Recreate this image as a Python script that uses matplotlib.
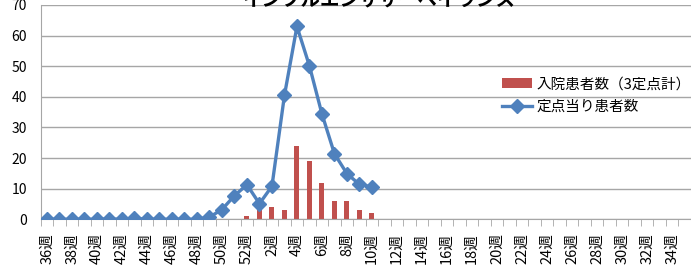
import matplotlib.pyplot as plt
import numpy as np

plt.rcParams['font.family'] = ['Noto Sans CJK JP', 'DejaVu Sans']

# weeks from 36 (previous year) to 35
weeks = list(range(36, 53)) + list(range(1, 36))
week_labels = [f'{w}週' if w % 2 == 0 else '' for w in weeks]

# 定点当り患者数 (36週 .. 10週)
per_site = [0, 0, 0, 0, 0, 0.1, 0, 0.3, 0, 0, 0, 0, 0,
            0.7, 3.2, 7.7, 11.3, 5.1, 10.8, 40.5, 63.0, 50.1,
            34.4, 21.4, 14.9, 11.4, 10.6]

# 入院患者数 (3定点計) (36週 .. 10週)
inpatients = [0, 0, 0, 0, 0, 0, 0, 0, 0, 0, 0, 0, 0, 0, 0, 0,
              1, 3, 4, 3, 24, 19, 12, 6, 6, 3, 2]

title = 'インフルエンザサーベイランス'
blue = '#4F81BD'
red = '#C0504D'

fig = plt.figure(figsize=(6.91, 2.73), dpi=100)
ax = fig.add_axes([40.7 / 691, 53.7 / 273, 650 / 691, 214.3 / 273])

x = np.arange(len(weeks))
bars = ax.bar(x[:len(inpatients)], inpatients, width=0.4, color=red,
              label='入院患者数（3定点計）', zorder=2)
line, = ax.plot(x[:len(per_site)], per_site, color=blue, lw=2.4, marker='D',
                markersize=7, label='定点当り患者数', zorder=3)

ax.set_xlim(-0.5, len(weeks) - 0.5)
ax.set_ylim(0, 70)
ax.set_yticks(range(0, 71, 10))
ax.grid(axis='y', color='#A6A6A6', lw=1, zorder=0)
ax.set_axisbelow(True)

ax.set_xticks(x)
ax.set_xticklabels(week_labels, rotation=90, fontsize=10.5)
ax.set_xticks(np.arange(-0.5, len(weeks), 1), minor=True)
ax.tick_params(axis='x', which='major', length=0, pad=10)
ax.tick_params(axis='x', which='minor', length=5, color='#A6A6A6', direction='out')
ax.tick_params(axis='y', length=0, pad=10, labelsize=10)

for s in ['top', 'right']:
    ax.spines[s].set_visible(False)
for s in ['left', 'bottom']:
    ax.spines[s].set_color('#A6A6A6')

ax.legend([bars, line], [bars.get_label(), line.get_label()],
          loc='upper left', bbox_to_anchor=(455 / 650, 0.69), frameon=False,
          fontsize=10.5, handlelength=2.1, handletextpad=0.3, labelspacing=0.6,
          borderaxespad=0)

fig.text(379 / 691, 1 - 5 / 273, title, ha='center', va='baseline',
         fontsize=14, fontweight='bold')

fig.savefig('out.png', dpi=100)
